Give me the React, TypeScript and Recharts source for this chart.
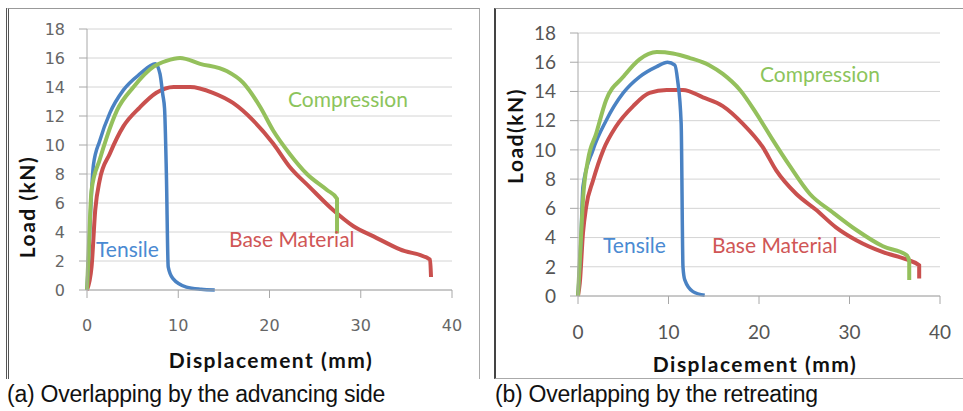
import React from 'react';
import { LineChart, Line, XAxis, YAxis, CartesianGrid } from 'recharts';

// Load (kN) vs displacement (mm)
const xTicks = [0, 10, 20, 30, 40];
const yTicks = [0, 2, 4, 6, 8, 10, 12, 14, 16, 18];

// (a) advancing side
const tensileA = [
  [0, 0], [0.2, 2.5], [0.4, 5.5], [0.7, 8.6], [1.4, 10.3], [2.5, 12.2], [4.0, 13.8],
  [5.8, 14.9], [7.5, 15.6], [8.0, 14.9], [8.3, 13.5], [8.5, 12.5], [8.7, 8.0],
  [8.9, 1.6], [9.4, 0.8], [10.9, 0.2], [12.5, 0.05], [14.0, 0],
];
const compressionA = [
  [0, 0], [0.2, 3.0], [0.5, 6.9], [1.4, 9.0], [2.2, 10.6], [3.3, 12.4], [5.1, 14.0],
  [7.3, 15.4], [8.7, 15.8], [10.2, 16.0], [12.4, 15.6], [15.3, 15.1], [17.1, 14.3],
  [19.0, 12.6], [20.4, 11.0], [22.2, 9.4], [24.1, 8.0], [26.3, 6.9], [27.4, 6.3], [27.4, 3.9],
];
const baseA = [
  [0, 0], [0.5, 1.6], [0.9, 5.5], [1.4, 7.6], [2.5, 9.4], [4.0, 11.3], [5.8, 12.6],
  [7.6, 13.6], [9.5, 14.0], [11.3, 14.0], [13.8, 13.6], [16.0, 12.9], [18.2, 11.7],
  [20.4, 10.1], [22.2, 8.5], [24.4, 7.1], [27.0, 5.5], [29.2, 4.4], [31.4, 3.7],
  [34.3, 2.8], [37.6, 2.1], [37.7, 0.9],
];

// (b) retreating side
const tensileB = [
  [0, 0], [0.3, 3.5], [0.55, 7.5], [1.66, 10.0], [3.1, 12.0], [5.0, 13.9], [6.8, 15.0],
  [8.7, 15.7], [9.9, 16.0], [10.7, 15.8], [11.0, 14.8], [11.4, 11.8], [11.6, 2.0],
  [11.8, 1.1], [12.7, 0.3], [14.0, 0.05],
];
const compressionB = [
  [0, 0], [0.37, 4.5], [0.55, 6.6], [1.1, 9.3], [2.0, 11.1], [3.1, 13.4], [5.0, 15.0],
  [6.8, 16.2], [8.7, 16.7], [10.5, 16.6], [12.3, 16.3], [14.5, 15.8], [16.0, 15.2],
  [17.9, 14.1], [19.7, 12.5], [21.5, 10.7], [23.4, 8.9], [25.6, 7.0], [28.2, 5.7],
  [30.8, 4.5], [33.7, 3.4], [36.3, 2.8], [36.6, 2.4], [36.6, 1.1],
];
const baseB = [
  [0, 0], [0.2, 0.9], [0.55, 4.3], [0.9, 6.1], [1.66, 7.9], [2.8, 10.0], [4.2, 11.6],
  [6.1, 13.0], [7.9, 13.9], [9.8, 14.1], [11.6, 14.1], [13.8, 13.6], [16.0, 13.0],
  [18.2, 11.8], [20.4, 10.2], [21.9, 8.6], [24.1, 7.0], [26.3, 5.9], [28.5, 4.7],
  [30.8, 3.8], [33.7, 3.0], [36.3, 2.5], [37.7, 2.1], [37.7, 1.2],
];

const BLUE = '#4a82c3';
const RED = '#c9504e';
const GREEN = '#94c05c';

const pts = (arr: number[][]) => arr.map(([x, y]) => ({ x, y }));

interface PanelProps {
  left: number;
  plotLeft: number;
  plotRight: number;
  plotTop: number;
  plotBottom: number;
  tickFont: string;
  tickSize: number;
  tickColor: string;
  tensile: number[][];
  compression: number[][];
  base: number[][];
}

function Panel({ left, plotLeft, plotRight, plotTop, plotBottom, tickFont, tickSize, tickColor, tensile, compression, base }: PanelProps) {
  const W = 480;
  const H = 380;
  const tickStyle = { fontFamily: tickFont, fontSize: tickSize, fill: tickColor };
  return (
    <div style={{ position: 'absolute', left, top: 0 }}>
      <LineChart
        width={W}
        height={H}
        margin={{ top: plotTop, right: W - plotRight, left: 0, bottom: H - plotBottom - 40 }}
      >
        <CartesianGrid vertical={false} stroke="#d4d4d4" />
        <XAxis
          type="number"
          dataKey="x"
          domain={[0, 40]}
          ticks={xTicks}
          height={40}
          tickSize={8}
          tickMargin={22}
          stroke="#a8a8a8"
          tick={tickStyle}
        />
        <YAxis
          type="number"
          dataKey="y"
          domain={[0, 18]}
          ticks={yTicks}
          width={plotLeft}
          tickSize={8}
          tickMargin={14}
          stroke="#a8a8a8"
          tick={tickStyle}
        />
        <Line type="monotone" data={pts(base)} dataKey="y" stroke={RED} strokeWidth={4} dot={false} isAnimationActive={false} />
        <Line type="monotone" data={pts(tensile)} dataKey="y" stroke={BLUE} strokeWidth={3.5} dot={false} isAnimationActive={false} />
        <Line type="monotone" data={pts(compression)} dataKey="y" stroke={GREEN} strokeWidth={4} dot={false} isAnimationActive={false} />
      </LineChart>
    </div>
  );
}

const abs = (x: number, y: number, extra: React.CSSProperties = {}): React.CSSProperties => ({
  position: 'absolute',
  left: x,
  top: y,
  whiteSpace: 'nowrap',
  lineHeight: 1,
  ...extra,
});

const seriesFont: React.CSSProperties = { fontFamily: 'Lato, sans-serif', fontSize: 21 };
const titleFont: React.CSSProperties = { fontFamily: 'Lato, sans-serif', fontSize: 21, fontWeight: 700, letterSpacing: 1.5, color: '#111' };
const captionFont: React.CSSProperties = { fontFamily: '"Liberation Sans", Arial, sans-serif', fontSize: 23, letterSpacing: -0.25, color: '#111' };

export default function App() {
  return (
    <div style={{ position: 'absolute', left: 0, top: 0, width: 963, height: 411, background: '#fff', overflow: 'hidden' }}>
      {/* frames */}
      <div style={{ position: 'absolute', left: 6, top: 8, width: 470, height: 370, borderLeft: '3px double #555', borderTop: '1px solid #999', borderRight: '1px solid #aaa' }} />
      <div style={{ position: 'absolute', left: 494, top: 8, width: 480, height: 369, borderLeft: '2px solid #444', borderTop: '1px solid #999', borderBottom: '1px solid #aaa' }} />

      <Panel
        left={0}
        plotLeft={87}
        plotRight={452}
        plotTop={29}
        plotBottom={290}
        tickFont='"DejaVu Sans", sans-serif'
        tickSize={16}
        tickColor="#666"
        tensile={tensileA}
        compression={compressionA}
        base={baseA}
      />
      <Panel
        left={483}
        plotLeft={95}
        plotRight={457}
        plotTop={33}
        plotBottom={296}
        tickFont='Lato, sans-serif'
        tickSize={19}
        tickColor="#555"
        tensile={tensileB}
        compression={compressionB}
        base={baseB}
      />

      {/* series labels */}
      <div style={abs(288, 88, { ...seriesFont, color: '#8cc45c' })}>Compression</div>
      <div style={abs(229, 228, { ...seriesFont, color: '#d05656' })}>Base Material</div>
      <div style={abs(96, 238, { ...seriesFont, color: '#4a8ad2' })}>Tensile</div>
      <div style={abs(760, 63, { ...seriesFont, color: '#8cc45c' })}>Compression</div>
      <div style={abs(712, 234, { ...seriesFont, color: '#d05656' })}>Base Material</div>
      <div style={abs(603, 234, { ...seriesFont, color: '#4a8ad2' })}>Tensile</div>

      {/* axis titles */}
      <div style={abs(26, 207, { ...titleFont, transform: 'translate(-50%, -50%) rotate(-90deg)' })}>Load (kN)</div>
      <div style={abs(271, 359, { ...titleFont, transform: 'translate(-50%, -50%)' })}>Displacement (mm)</div>
      <div style={abs(514, 136, { ...titleFont, transform: 'translate(-50%, -50%) rotate(-90deg)' })}>Load(kN)</div>
      <div style={abs(755, 363, { ...titleFont, transform: 'translate(-50%, -50%)' })}>Displacement (mm)</div>

      {/* captions */}
      <div style={abs(7, 383, captionFont)}>(a) Overlapping by the advancing side</div>
      <div style={abs(495, 383, captionFont)}>(b) Overlapping by the retreating</div>
    </div>
  );
}
